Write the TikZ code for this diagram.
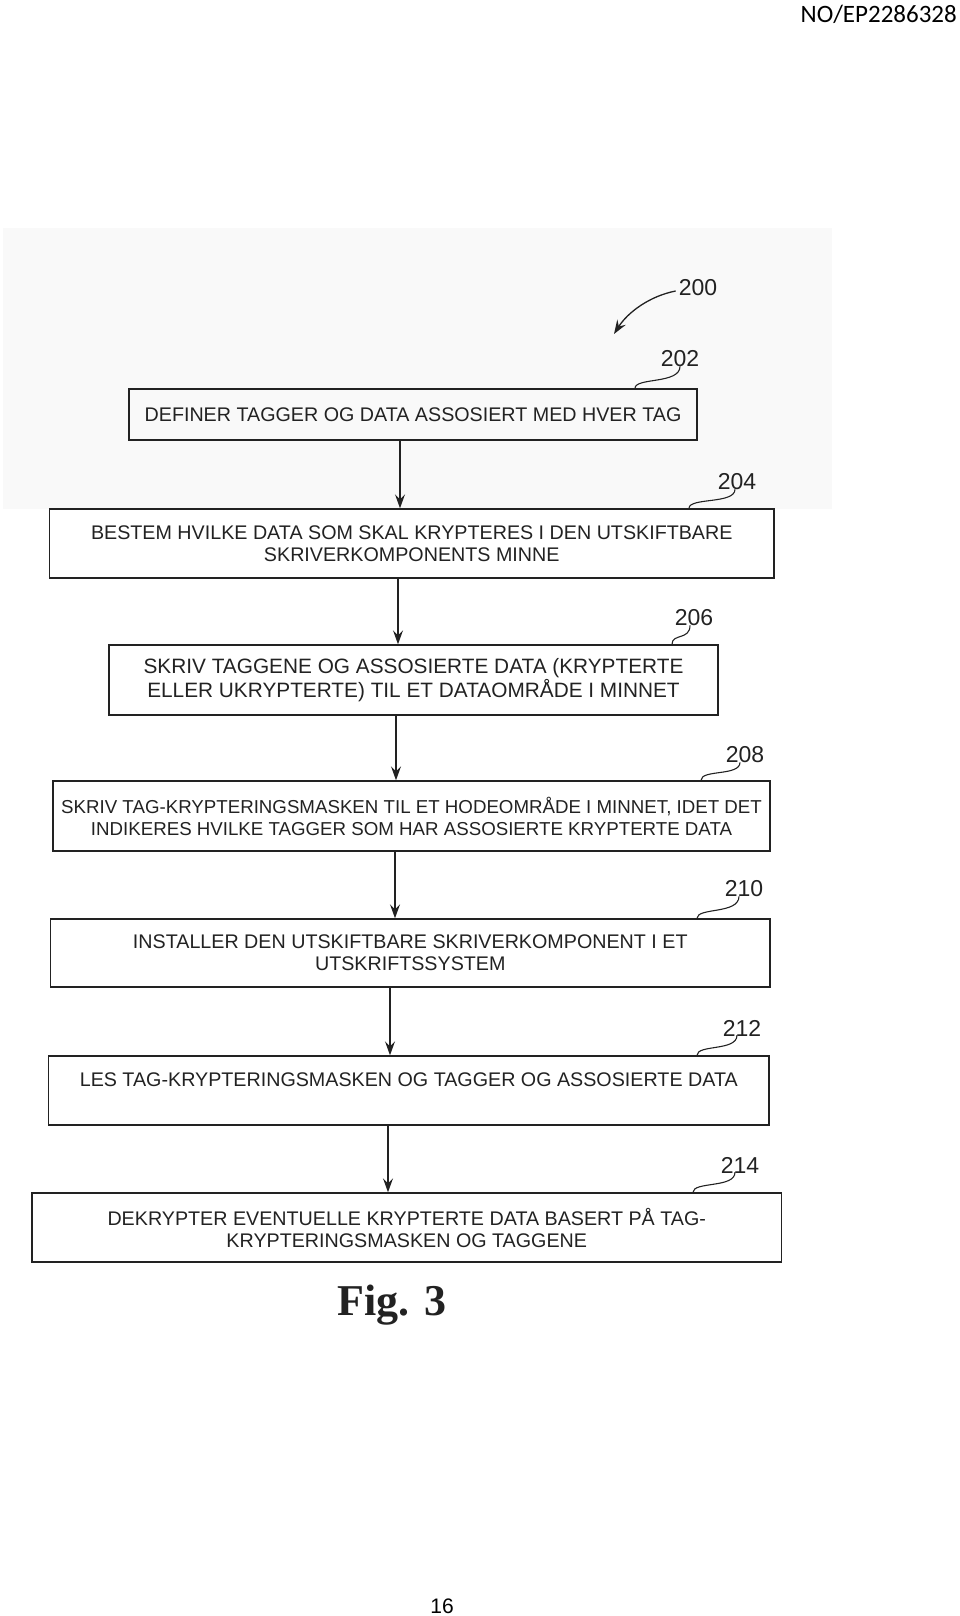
\documentclass[tikz,border=0pt]{standalone}
\usepackage{fontspec}
\setmainfont{Liberation Sans}
\newfontfamily\hdrfont{Carlito}
\newfontfamily\figfont{Liberation Serif}
\usetikzlibrary{arrows.meta,calc}
\definecolor{scan}{HTML}{F9F9F9}
\definecolor{ink}{HTML}{222222}
\tikzset{
  box/.style={draw=ink, line width=1.4pt, align=center, inner sep=0pt,
    font=\fontsize{#1}{22}\selectfont, text=ink},
  box/.default=19.7,
  arr/.style={draw=ink, line width=1.3pt, -{Stealth[length=14pt,width=10pt,inset=5pt]}},
  lbl/.style={font=\fontsize{23}{23}\selectfont, text=ink, inner sep=0pt},
  lead/.style={draw=ink, line width=1.1pt}
}
\begin{document}
\begin{tikzpicture}[x=1pt,y=-1pt]
\useasboundingbox (0,0) rectangle (960,1616);
\fill[scan] (3,228) rectangle (832,509);
% header & page number
\node[anchor=north east, inner sep=0pt, font=\hdrfont\fontsize{25}{25}\selectfont] (hdr) at (957,5) {NO/EP2286328};
\node[anchor=base, inner sep=0pt, font=\fontsize{21}{21}\selectfont] (pg) at (442,1613) {16};
% boxes
\node[box, minimum width=568pt, minimum height=51pt] (b202) at (413,414.5) {DEFINER TAGGER OG DATA ASSOSIERT MED HVER TAG};
\node[box, minimum width=724.5pt, minimum height=69pt] (b204) at (411.75,543.5) {BESTEM HVILKE DATA SOM SKAL KRYPTERES I DEN UTSKIFTBARE\\SKRIVERKOMPONENTS MINNE};
\node[box=20.8, minimum width=609pt, minimum height=70pt] (b206) at (413.5,680) {SKRIV TAGGENE OG ASSOSIERTE DATA (KRYPTERTE\\ELLER UKRYPTERTE) TIL ET DATAOMRÅDE I MINNET};
\node[box=18.7, minimum width=717pt, minimum height=70pt] (b208) at (411.5,816) {SKRIV TAG-KRYPTERINGSMASKEN TIL ET HODEOMRÅDE I MINNET, IDET DET\\INDIKERES HVILKE TAGGER SOM HAR ASSOSIERTE KRYPTERTE DATA};
\node[box, minimum width=719.5pt, minimum height=68pt] (b210) at (410.25,953) {INSTALLER DEN UTSKIFTBARE SKRIVERKOMPONENT I ET\\UTSKRIFTSSYSTEM};
\node[box, minimum width=720.5pt, minimum height=69pt] (b212) at (408.75,1090.5) {LES TAG-KRYPTERINGSMASKEN OG TAGGER OG ASSOSIERTE DATA\\\mbox{}};
\node[box, minimum width=749.5pt, minimum height=69pt] (b214) at (406.75,1227.5) {DEKRYPTER EVENTUELLE KRYPTERTE DATA BASERT PÅ TAG-\\KRYPTERINGSMASKEN OG TAGGENE};
% arrows
\coordinate (a1) at (400,0);
\coordinate (a2) at (398,0);
\coordinate (a3) at (396,0);
\coordinate (a4) at (395,0);
\coordinate (a5) at (390,0);
\coordinate (a6) at (388,0);
\draw[arr] (b202.south -| a1) -- (b204.north -| a1);
\draw[arr] (b204.south -| a2) -- (b206.north -| a2);
\draw[arr] (b206.south -| a3) -- (b208.north -| a3);
\draw[arr] (b208.south -| a4) -- (b210.north -| a4);
\draw[arr] (b210.south -| a5) -- (b212.north -| a5);
\draw[arr] (b212.south -| a6) -- (b214.north -| a6);
% labels
\node[lbl] (l200) at (698,288) {200};
\node[lbl] (l202) at (680,359) {202};
\node[lbl] (l204) at (737,482) {204};
\node[lbl] (l206) at (694,618) {206};
\node[lbl] (l208) at (745,755) {208};
\node[lbl] (l210) at (744,889) {210};
\node[lbl] (l212) at (742,1028) {212};
\node[lbl] (l214) at (740,1165) {214};
% 200 arrow
\coordinate (t200) at (614,334);
\draw[arr, line width=1.3pt] ([xshift=-3pt,yshift=-3pt]l200.west) .. controls (650,296) and (628,312) .. (t200);
% leaders
\coordinate (x202) at (635,0);
\coordinate (x204) at (689,0);
\coordinate (x206) at (672,0);
\coordinate (x208) at (701,0);
\coordinate (x210) at (697,0);
\coordinate (x212) at (697,0);
\coordinate (x214) at (693,0);
\foreach \n/\dx in {202/0,204/-2,206/-4,208/-5,210/-5,212/-5,214/-5}{
  \coordinate (s\n) at ([xshift=\dx pt,yshift=1pt]l\n.south);
  \coordinate (e\n) at (b\n.north -| x\n);
  \draw[lead] (s\n) .. controls ($(s\n |- e\n)+(0,-4)$) and ($(e\n)+(0,-11)$) .. (e\n);
}
% figure caption
\node[inner sep=0pt, font=\figfont\bfseries\fontsize{44}{44}\selectfont, text=ink] (fig) at (392,1305) {Fig. 3};
\end{tikzpicture}
\end{document}
